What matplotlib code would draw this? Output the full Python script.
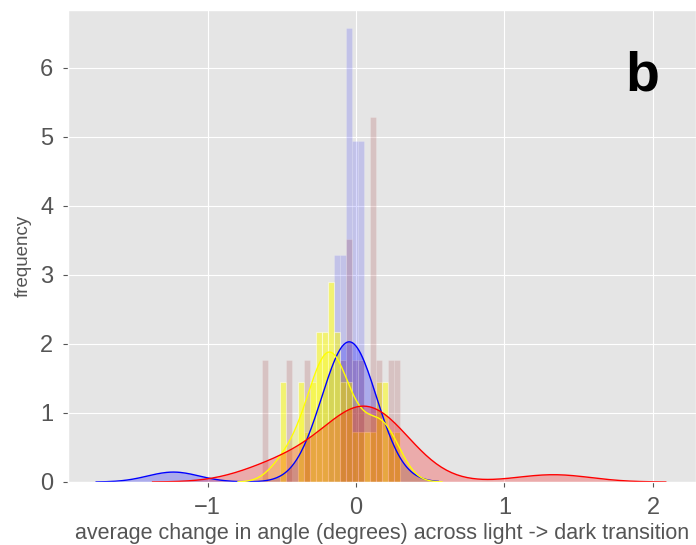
import matplotlib
matplotlib.use("Agg")
import matplotlib.pyplot as plt
import numpy as np

# ---- data (values in degrees) ----
bin_edges = np.round(-0.6342 + 0.0405 * np.arange(24), 4)

blue_samples = [-1.23, -0.169, -0.128, -0.128, -0.088, -0.088,
                -0.047, -0.047, -0.047, -0.047,
                -0.007, -0.007, -0.007, 0.034, 0.034, 0.034]

yellow_samples = [-0.493, -0.493, -0.371, -0.371, -0.331,
                  -0.290, -0.290, -0.250, -0.250, -0.250,
                  -0.209, -0.209, -0.209,
                  -0.169, -0.169, -0.169, -0.169,
                  -0.128, -0.128, -0.128, -0.088, -0.088, -0.047, -0.047,
                  -0.007, 0.034,
                  0.075, 0.115, 0.156, 0.156, 0.196, 0.196, 0.237, 0.277]

red_samples = [-0.614, -0.452, -0.331, -0.088, -0.047, -0.047, -0.007, 0.034,
               0.115, 0.115, 0.115, 0.156, 0.237, 0.277, 1.33]

hist_colors = ["blue", "yellow", "#8B0000"]
hist_alphas = [0.15, 0.5, 0.15]
kde_colors = ["blue", "yellow", "red"]

x_ticks = [-1, 0, 1, 2]
y_ticks = [0, 1, 2, 3, 4, 5, 6]
x_label = "average change in angle (degrees) across light -> dark transition"
y_label = "frequency"
panel_label = "b"


def kde_curve(samples, gridsize=200, cut=3):
    x = np.asarray(samples, dtype=float)
    n = len(x)
    h = x.std(ddof=1) * n ** (-0.2)
    grid = np.linspace(x.min() - cut * h, x.max() + cut * h, gridsize)
    dens = np.exp(-0.5 * ((grid[:, None] - x[None, :]) / h) ** 2).sum(1)
    dens /= n * h * np.sqrt(2 * np.pi)
    return grid, dens


plt.style.use("ggplot")
plt.rcParams["font.family"] = ["Liberation Sans", "DejaVu Sans"]

fig = plt.figure(figsize=(6.96, 5.45), dpi=100)
ax = fig.add_axes([68 / 696, 63 / 545, 628 / 696, 472 / 545])

for samples, hc, ha, kc in zip([blue_samples, yellow_samples, red_samples],
                               hist_colors, hist_alphas, kde_colors):
    ax.hist(samples, bins=bin_edges, density=True, color=hc, alpha=ha,
            edgecolor="white", linewidth=0.8)
    gx, gy = kde_curve(samples)
    ax.fill_between(gx, gy, color=kc, alpha=0.25, linewidth=0)
    ax.plot(gx, gy, color=kc, linewidth=1.0)

ax.set_xlim(-1.94, 2.29)
ax.set_ylim(0, 6.84)
ax.set_xticks(x_ticks)
ax.set_yticks(y_ticks)
ax.tick_params(axis="both", labelsize=17, colors="#555555", pad=7)
ax.set_xlabel(x_label, fontsize=15.5, color="#555555", labelpad=3)
ax.set_ylabel(y_label, fontsize=13.5, color="#555555")
ax.yaxis.set_label_coords(-0.058, 0.48)
ax.text(0.914, 0.83, panel_label, transform=ax.transAxes, fontsize=40,
        fontweight="bold", ha="center", va="baseline", color="black")

fig.savefig("out.png", dpi=100)
